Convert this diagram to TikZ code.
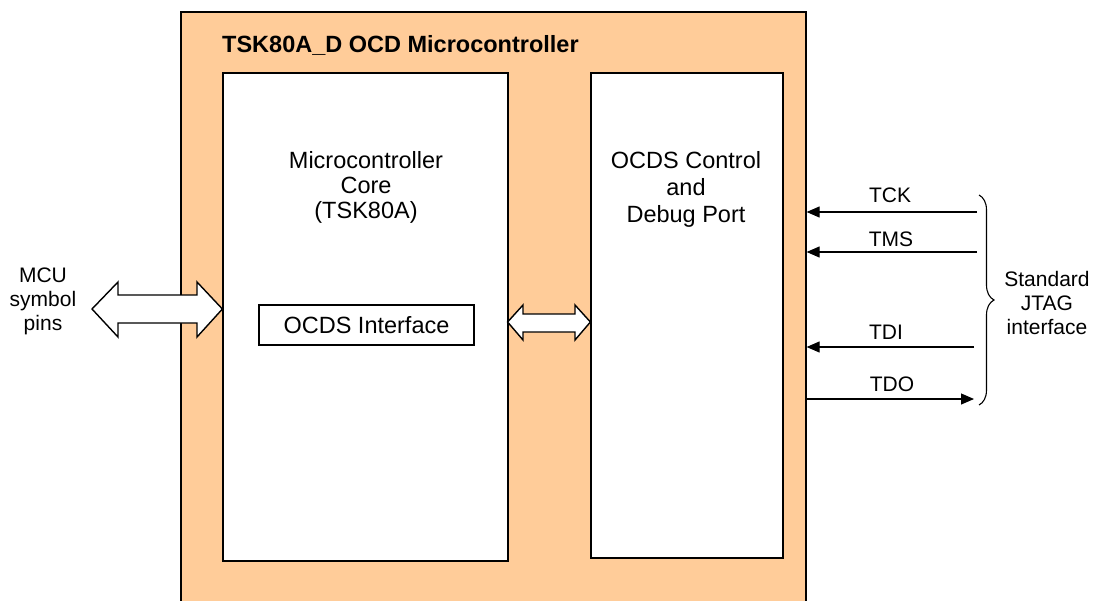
\documentclass[tikz,border=0pt]{standalone}
\usepackage{fontspec}
\setmainfont{Liberation Sans}
\usetikzlibrary{arrows.meta,decorations.pathreplacing,calc}
\definecolor{peach}{HTML}{FFCC99}
\begin{document}
\begin{tikzpicture}[x=1pt,y=-1pt,
  box/.style={draw=black,line width=1.2pt,fill=white,rectangle,inner sep=0pt},
  lbl/.style={font=\fontsize{23.5}{26}\selectfont,align=center,inner sep=0pt},
  small/.style={font=\fontsize{21}{24}\selectfont,align=center,inner sep=0pt},
  sig/.style={line width=1.1pt,-{Triangle[length=13pt,width=11pt]}},
  fatarrow/.style={draw=black,fill=white,line width=1.4pt,line join=miter}]
\useasboundingbox (0,0) rectangle (1095,600);
% outer board
\node[draw=black,line width=1.2pt,fill=peach,rectangle,inner sep=0pt,minimum width=625pt,minimum height=620pt] (outer) at (493.5,322) {};
\node[font=\fontsize{23.5}{26}\selectfont\bfseries,anchor=west,inner sep=0pt] (title) at (222,45) {TSK80A\_D OCD Microcontroller};
% core
\node[box,minimum width=285pt,minimum height=488pt] (core) at (365.5,317) {};
\node[lbl] (coretxt) at (366,187) {Microcontroller\\[-1pt]Core\\[-1pt](TSK80A)};
\node[box,minimum width=215pt,minimum height=40pt] (ocdsif) at (366.5,325) {};
\node[lbl] (ocdsiftxt) at (ocdsif) {OCDS Interface};
% debug port
\node[box,minimum width=192pt,minimum height=485pt] (dbg) at (687,315.5) {};
\node[lbl] (dbgtxt) at (686,189) {OCDS Control\\[1pt]and\\[1pt]Debug Port};
% MCU pins
\node[small] (pins) at (43,301) {MCU\\symbol\\pins};
\draw[fatarrow] (92,309) -- (118,282) -- (118,295) -- (197,295) -- (197,282) -- (core.west |- 0,309)
  -- (197,337) -- (197,323) -- (118,323) -- (118,337) -- cycle;
% internal double arrow
\draw[fatarrow] (ocdsif.east |- 0,322) ++(33,0) -- (523,305) -- (523,314) -- (575,314) -- (575,305) -- (dbg.west |- 0,322)
  -- (575,340) -- (575,332) -- (523,332) -- (523,340) -- cycle;
% JTAG signals
\coordinate (tck) at (977,212);
\coordinate (tms) at (977,252);
\coordinate (tdi) at (974,347);
\coordinate (tdo) at (974,399);
\draw[sig] (tck) -- (tck -| outer.east);
\draw[sig] (tms) -- (tms -| outer.east);
\draw[sig] (tdi) -- (tdi -| outer.east);
\draw[sig] (tdo -| outer.east) -- (tdo);
\node[small] (tcklbl) at (890,195) {TCK};
\node[small] (tmslbl) at (891,239) {TMS};
\node[small] (tdilbl) at (886,332) {TDI};
\node[small] (tdolbl) at (892,384) {TDO};
% brace
\coordinate (btop) at (979,195);
\coordinate (bbot) at (979,405);
\draw[line width=1.1pt,decorate,decoration={brace,amplitude=15pt}] (btop) -- (bbot);
\node[small] (jtag) at (1047,303) {Standard\\JTAG\\interface};
\end{tikzpicture}
\end{document}
